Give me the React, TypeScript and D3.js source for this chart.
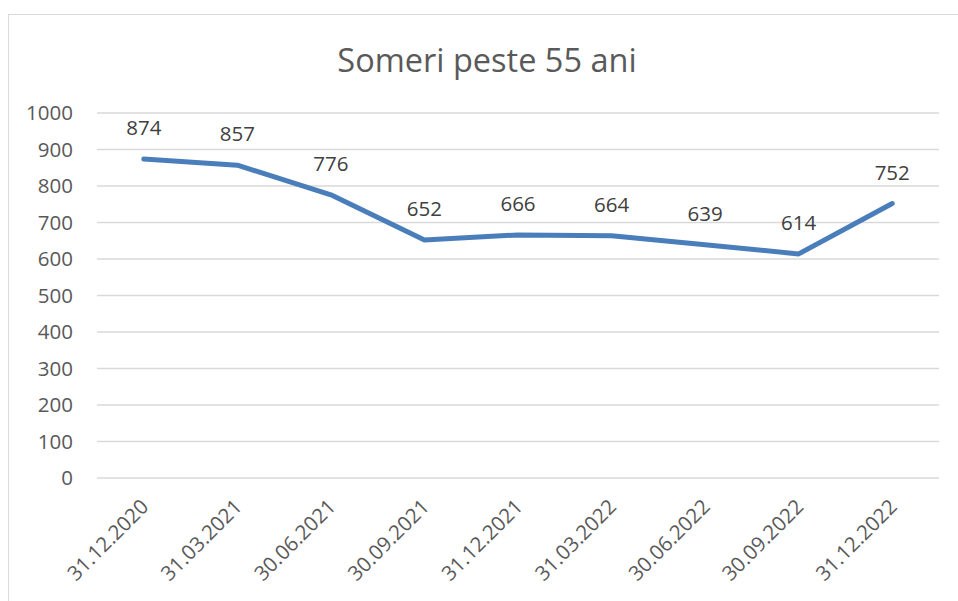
import React from "react";
import * as d3 from "d3";

const categories = ["31.12.2020","31.03.2021","30.06.2021","30.09.2021","31.12.2021","31.03.2022","30.06.2022","30.09.2022","31.12.2022"];
const values = [874, 857, 776, 652, 666, 664, 639, 614, 752];
const yTicks = [0,100,200,300,400,500,600,700,800,900,1000];
const title = "Someri peste 55 ani";

export default function App() {
  const W = 958, H = 601;
  const left = 97, right = 939, top = 113, bottom = 478;
  const x = d3.scaleBand<string>().domain(categories).range([left, right]);
  const y = d3.scaleLinear().domain([0, 1000]).range([bottom, top]);
  const line = d3.line<number>().x((_, i) => x(categories[i])! + x.bandwidth() / 2).y(d => y(d));
  const font = "'Open Sans', sans-serif";
  return (
    <svg width={W} height={H} style={{ position: "absolute", left: 0, top: 0, background: "#fff" }} fontFamily={font}>
      <rect x={8.5} y={14.5} width={960} height={600} fill="#fff" stroke="#d9d9d9" strokeWidth={1} />
      <text x={487} y={72} textAnchor="middle" fontSize={32.5} fill="#595959">{title}</text>
      {yTicks.map(t => (
        <g key={t}>
          <line x1={left} x2={right} y1={y(t)} y2={y(t)} stroke="#d9d9d9" strokeWidth={1.5} />
          <text x={73} y={y(t)} dy="0.35em" textAnchor="end" fontSize={20.5} fill="#595959">{t}</text>
        </g>
      ))}
      <path d={line(values)!} fill="none" stroke="#4a7ebb" strokeWidth={5} strokeLinejoin="round" strokeLinecap="round" />
      {values.map((v, i) => (
        <text key={i} x={x(categories[i])! + x.bandwidth() / 2} y={y(v) - 31} dy="0.35em" textAnchor="middle" fontSize={20.5} fill="#404040">{v}</text>
      ))}
      {categories.map(c => {
        const cx = x(c)! + x.bandwidth() / 2 + 1;
        const cy = 503;
        return (
          <text key={c} transform={`translate(${cx},${cy}) rotate(-45)`} textAnchor="end" dy="0.35em" fontSize={20.5} fill="#595959">{c}</text>
        );
      })}
    </svg>
  );
}
